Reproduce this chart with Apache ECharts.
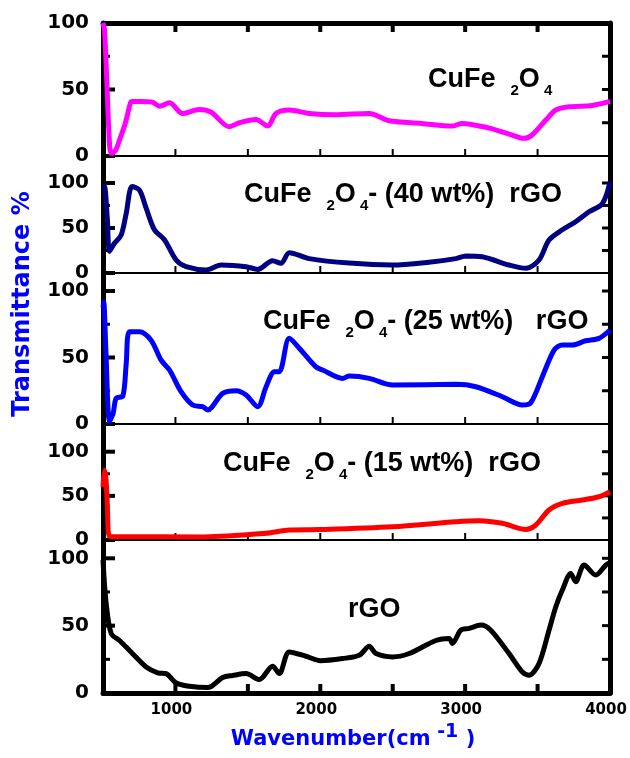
<!DOCTYPE html>
<html><head><meta charset="utf-8">
<script src="https://cdn.jsdelivr.net/npm/echarts@6/dist/echarts.min.js"></script>
<style>html,body{margin:0;padding:0;background:#fff}#c{width:630px;height:758px}</style>
</head><body><div id="c"></div>
<script>
// ---------- data ----------
const wavenumberTickLabels = [1000, 2000, 3000, 4000];
const wavenumberTicks = [1000, 1500, 2000, 2500, 3000, 3500];
const transmittanceTickLabels = [0, 50, 100];
const transmittanceMinorTicks = [25, 75];
const transmittanceRightTicks = [25, 50, 75, 100];

const cufe2o4Wn = [500, 510, 525, 540, 556, 585, 614, 655, 690, 703, 760, 841, 890, 959, 1050, 1165, 1246, 1372, 1441, 1557, 1637, 1694, 1786, 1924, 2100, 2338, 2476, 2700, 2910, 2979, 3166, 3303, 3407, 3462, 3557, 3626, 3717, 3876, 4000];
const cufe2o4T  = [100, 95, 60, 20, 2, 4, 12, 25, 40, 41, 41, 40.5, 37.5, 40, 32, 35, 33, 22, 25, 27.5, 22.5, 32, 34.5, 32, 31, 32, 26.5, 24.5, 22.5, 24.5, 21, 16.5, 13.3, 15.8, 27, 34.6, 37, 38, 41];

const rgo40Wn = [500, 510, 530, 545, 579, 625, 660, 701, 752, 798, 855, 924, 1005, 1074, 1212, 1315, 1488, 1568, 1671, 1729, 1786, 1924, 2200, 2497, 2750, 2936, 3005, 3117, 3303, 3419, 3510, 3579, 3671, 3763, 3855, 3947, 4000];
const rgo40T  = [95, 96, 60, 24, 33, 42, 66, 96, 92, 72, 48, 37, 14.4, 7, 3.3, 8.9, 7, 4, 13.7, 10.7, 22.6, 16, 11, 8.9, 12, 16, 18.9, 18, 8.9, 5.2, 14.4, 36.7, 48, 57, 68, 77, 101];

const rgo25Wn = [500, 505, 520, 545, 570, 591, 637, 660, 683, 752, 832, 901, 959, 1039, 1119, 1188, 1223, 1326, 1419, 1488, 1568, 1626, 1683, 1717, 1786, 1855, 1970, 2016, 2154, 2200, 2338, 2499, 2936, 3074, 3257, 3395, 3453, 3533, 3614, 3671, 3740, 3832, 3924, 4000];
const rgo25T  = [88, 92, 55, 2, 8, 19.3, 21, 45, 69.4, 69.4, 63, 48, 40.6, 24.3, 14.3, 13, 10.5, 23, 25, 21.8, 13, 28, 39.3, 39.3, 64.4, 57, 43, 40.6, 34.3, 36, 34.3, 29.3, 29.8, 28, 20.5, 14.3, 16, 35.6, 55.6, 59.4, 59.4, 62.6, 64.4, 70.7];

const rgo15Wn = [500, 510, 520, 530, 545, 600, 1200, 1626, 1786, 1993, 2497, 2936, 3097, 3257, 3419, 3488, 3579, 3671, 3809, 3924, 4000];
const rgo15T  = [60, 79, 70, 40, 4, 3.8, 3.5, 7.6, 11.3, 11.8, 15, 20.7, 21.9, 18.9, 12, 17, 34, 41.5, 45.3, 49, 54.7];

const rgoWn = [500, 522, 557, 614, 706, 798, 878, 936, 1005, 1097, 1223, 1326, 1395, 1488, 1579, 1671, 1717, 1786, 1901, 2000, 2154, 2269, 2338, 2384, 2499, 2614, 2798, 2890, 2912, 2970, 3028, 3108, 3177, 3303, 3395, 3441, 3510, 3579, 3626, 3671, 3729, 3763, 3821, 3902, 3971, 4000];
const rgoT  = [98.7, 66.5, 44, 39, 29, 19.3, 15, 14.4, 7.4, 5, 4, 11.5, 13, 14.4, 10, 19.9, 14.4, 30.5, 27.3, 24, 25.6, 28, 34.7, 29.3, 26.8, 29.3, 39, 40.5, 36.8, 46.6, 48, 50.4, 46.6, 29.3, 15.6, 13.2, 21.9, 46.6, 64, 76.4, 88.8, 82.6, 95, 87.6, 95, 97];

const seriesWn = [cufe2o4Wn, rgo40Wn, rgo25Wn, rgo15Wn, rgoWn];
const seriesT = [cufe2o4T, rgo40T, rgo25T, rgo15T, rgoT];
const seriesNames = ['CuFe2O4', 'CuFe2O4-(40 wt%) rGO', 'CuFe2O4-(25 wt%) rGO', 'CuFe2O4-(15 wt%) rGO', 'rGO'];

// ---------- layout / style ----------
const colors = ['#FF00FF', '#000080', '#0000FF', '#FF0000', '#000000'];
// pixel rows of each panel: top edge, position of 100 %, bottom edge (0 %)
const panels = [
  {top: 23, y100: 23, bottom: 156},
  {top: 156, y100: 183, bottom: 273},
  {top: 273, y100: 291, bottom: 424},
  {top: 424, y100: 451.7, bottom: 540},
  {top: 540, y100: 558.3, bottom: 693}
];
const GL = 103, GW = 507;
const N = panels.length;
// tick kinds: [dx, dy, lineWidth]
const tickKinds = [
  [0, -7, 2],   // inner panel bottom ticks
  [0, -9, 4],   // bottom frame ticks
  [0, 9, 4],    // top frame ticks
  [12, 0, 4],   // left major
  [7, 0, 3],    // left minor
  [-8, 0, 3]    // right
];

const grid = [], xAxis = [], yAxis = [], series = [];
panels.forEach((p, i) => {
  const last = i === N - 1;
  const max = 100 * (p.bottom - p.top) / (p.bottom - p.y100);
  grid.push({left: GL, width: GW, top: p.top, height: p.bottom - p.top});
  xAxis.push({
    gridIndex: i, type: 'value', min: 500, max: 4000, interval: 500,
    splitLine: {show: false},
    axisTick: {show: false},
    axisLine: {lineStyle: {color: '#000', width: last ? 5 : 2}},
    axisLabel: last ? {fontSize: 15, fontWeight: 'bold', fontFamily: 'DejaVu Sans', color: '#000', margin: 10,
      padding: [0, 8, 0, 0], formatter: v => (wavenumberTickLabels.indexOf(v) >= 0 ? String(v) : '')} : {show: false}
  });
  yAxis.push({
    gridIndex: i, type: 'value', min: 0, max: max, interval: 25,
    splitLine: {show: false},
    axisTick: {show: false},
    axisLine: {show: true, lineStyle: {color: '#000', width: 5}},
    axisLabel: {fontSize: 20, fontWeight: 'bold', fontFamily: 'DejaVu Sans', color: '#000', margin: 14,
      formatter: v => (transmittanceTickLabels.indexOf(v) >= 0 ? String(v) : '')}
  });
  yAxis.push({
    gridIndex: i, type: 'value', min: 0, max: max, interval: 25, position: 'right',
    splitLine: {show: false},
    axisTick: {show: false},
    axisLine: {show: true, lineStyle: {color: '#000', width: 5}},
    axisLabel: {show: false}
  });
  series.push({
    name: seriesNames[i], type: 'line', xAxisIndex: i, yAxisIndex: 2 * i,
    data: seriesWn[i].map((w, k) => [w, seriesT[i][k]]),
    showSymbol: false, smooth: 0.3,
    lineStyle: {color: colors[i], width: 5}, itemStyle: {color: colors[i]}
  });
  // tick marks of this panel, drawn by a custom series through the panel's axes
  const tickData = [];
  wavenumberTicks.forEach(v => tickData.push([v, 0, last ? 1 : 0]));
  if (i === 0) wavenumberTicks.forEach(v => tickData.push([v, 100, 2]));
  transmittanceTickLabels.forEach(v => tickData.push([500, v, 3]));
  transmittanceMinorTicks.forEach(v => tickData.push([500, v, 4]));
  transmittanceRightTicks.forEach(v => tickData.push([4000, v, 5]));
  series.push({
    type: 'custom', xAxisIndex: i, yAxisIndex: 2 * i, silent: true, clip: false, z: 3,
    encode: {x: 0, y: 1},
    data: tickData,
    renderItem: (params, api) => {
      const pt = api.coord([api.value(0), api.value(1)]);
      const k = tickKinds[api.value(2)];
      return {type: 'line', shape: {x1: pt[0], y1: pt[1], x2: pt[0] + k[0], y2: pt[1] + k[1]},
        style: {stroke: '#000', lineWidth: k[2]}};
    }
  });
});
// cap grid above the first panel: its bottom axis line is the thick top frame
grid.push({left: GL, width: GW, top: 3, height: 20});
xAxis.push({
  gridIndex: N, type: 'value', min: 500, max: 4000, interval: 500,
  splitLine: {show: false}, axisTick: {show: false},
  axisLine: {lineStyle: {color: '#000', width: 5}},
  axisLabel: {show: false}
});
yAxis.push({
  gridIndex: N, type: 'value', min: 0, max: 1,
  splitLine: {show: false}, axisTick: {show: false}, axisLine: {show: false}, axisLabel: {show: false}
});

const mainF = {fontSize: 27, fontWeight: 'bold', fontFamily: 'Liberation Sans', fill: '#000', lineHeight: 36};
const subF = {fontSize: 15, fontWeight: 'bold', fontFamily: 'Liberation Sans', fill: '#000', lineHeight: 15, verticalAlign: 'bottom'};
function ann(x, y, text) {
  return {type: 'text', x: x, y: y, z: 10,
    style: {text: text, rich: {m: mainF, s: subF}, align: 'left', verticalAlign: 'middle'}};
}
const textEls = [
  {type: 'text', x: 23, y: 304, rotation: Math.PI / 2, z: 10,
    style: {text: 'Transmittance %', font: 'bold 24px "DejaVu Sans"', fill: '#0000FF', align: 'center', verticalAlign: 'middle'}},
  {type: 'text', x: 353, y: 740, z: 10,
    style: {text: '{m|Wavenumber(cm}{s| -1}{m| )}', align: 'center', verticalAlign: 'middle',
      rich: {
        m: {fontSize: 21, fontWeight: 'bold', fontFamily: 'DejaVu Sans', fill: '#0000FF', lineHeight: 34},
        s: {fontSize: 19, fontWeight: 'bold', fontFamily: 'DejaVu Sans', fill: '#0000FF', lineHeight: 19, verticalAlign: 'top'}
      }}},
  ann(428, 80, '{m|CuFe  }{s|2}{m|O}{s| 4}'),
  ann(244, 195, '{m|CuFe  }{s|2}{m|O}{s| 4}{m|- (40 wt%)  rGO}'),
  ann(263, 322, '{m|CuFe  }{s|2}{m|O}{s| 4}{m|- (25 wt%)   rGO}'),
  ann(223, 464, '{m|CuFe  }{s|2}{m|O}{s| 4}{m|- (15 wt%)  rGO}'),
  ann(348, 610, '{m|rGO}')
];

const chart = echarts.init(document.getElementById('c'));
chart.setOption({animation: false, backgroundColor: '#fff', grid, xAxis, yAxis, series, graphic: textEls});
</script></body></html>
